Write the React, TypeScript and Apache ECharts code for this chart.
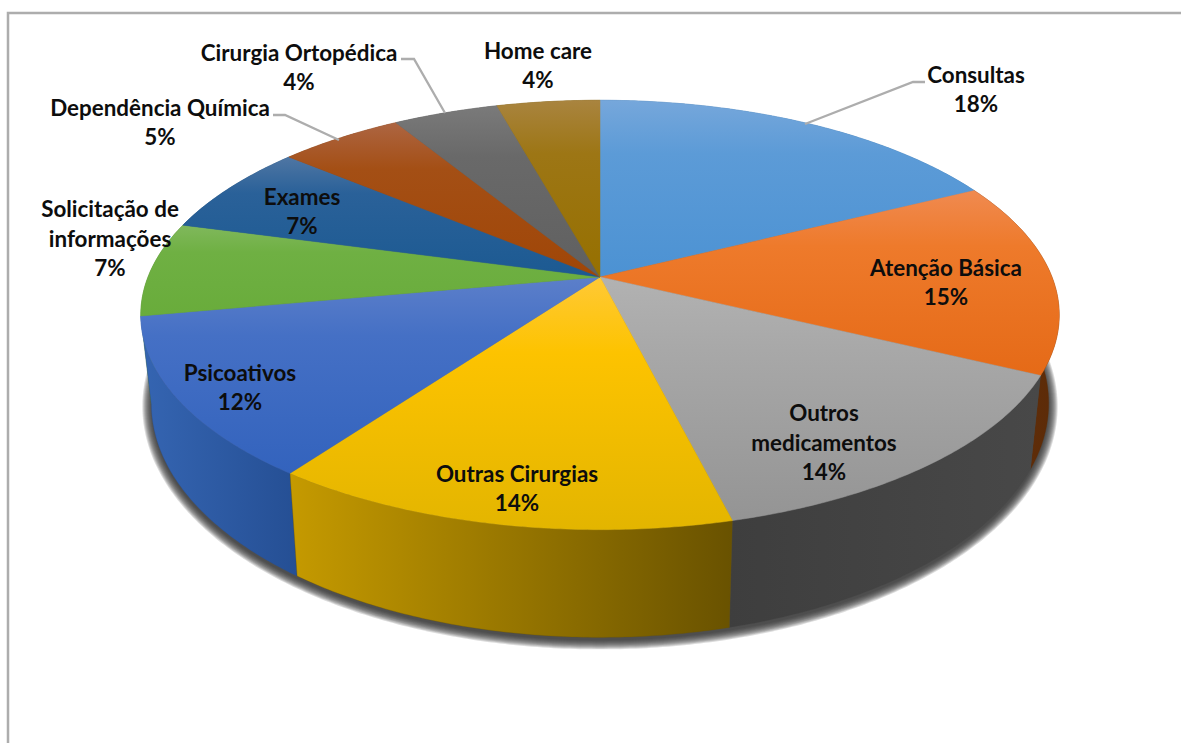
import React, { useEffect, useRef } from "react";
import * as echarts from "echarts";

const categories = [
  "Consultas",
  "Atenção Básica",
  "Outros\nmedicamentos",
  "Outras Cirurgias",
  "Psicoativos",
  "Solicitação de\ninformações",
  "Exames",
  "Dependência Química",
  "Cirurgia Ortopédica",
  "Home care",
];
const values = [17.6, 14.6, 13.9, 13.9, 12.1, 7.1, 6.9, 5.2, 4.4, 4.3];

const topLight = ["#76a7db", "#f08a50", "#b2b2b2", "#ffc936", "#5c7fca", "#80b85c", "#4f76a3", "#ad6542", "#7a7a7a", "#a9843f"];
const topMid = ["#5c9bd7", "#ee7a2b", "#a8a8a8", "#fdc300", "#4570c5", "#6fb043", "#2a6199", "#a44f15", "#696969", "#9d7615"];
const topDark = ["#4c92d3", "#e56a17", "#949494", "#e3b500", "#3363bd", "#69ac3b", "#1c5a92", "#a04607", "#606060", "#967000"];
const sideLeft = ["#2f6ca3", "#64300a", "#3e3e3e", "#c59a00", "#3565b2", "#4c7f2a", "#15426b", "#6f3005", "#444444", "#6b5000"];
const sideRight = ["#2f6ca3", "#5c2b08", "#484848", "#695200", "#254f94", "#4c7f2a", "#15426b", "#6f3005", "#444444", "#6b5000"];

const labelCenters = [
  [976, 89], [946, 282], [824, 442], [517, 488], [240, 387],
  [110, 238], [302, 211], [160, 122], [299, 67], [538, 65],
];
const leaderLines = [
  [[805, 124], [913, 82], [925, 82]],
  [[273, 115], [285, 115], [339, 140]],
  [[401, 59], [414, 59], [445, 113]],
];

// Perspective projection of the pie's unit disc
const CX = 600, CY = 277, A = 452, B = 208, K = 0.1768;
const BOTTOM_X = 0.977, BOTTOM_Y = 1.09, BOTTOM_CY = 362;
const total = values.reduce((a, b) => a + b, 0);

function top(angle: number): number[] {
  const x = Math.sin(angle), y = -Math.cos(angle);
  const w = 1 - K * y;
  return [CX + (A * x) / w, CY + (B * y) / w];
}
function bottom(angle: number): number[] {
  const p = top(angle);
  return [CX + BOTTOM_X * (p[0] - CX), BOTTOM_CY + BOTTOM_Y * (p[1] - CY)];
}
function arc(fn: (a: number) => number[], a0: number, a1: number): number[][] {
  const n = Math.max(4, Math.ceil((a1 - a0) / 0.01));
  const pts: number[][] = [];
  for (let i = 0; i <= n; i++) pts.push(fn(a0 + ((a1 - a0) * i) / n));
  return pts;
}
function bounds(i: number): [number, number] {
  let s = 0;
  for (let k = 0; k < i; k++) s += values[k];
  return [(s / total) * Math.PI * 2, ((s + values[i]) / total) * Math.PI * 2];
}
const hGrad = (a: string, b: string) =>
  new echarts.graphic.LinearGradient(0, 0, 1, 0, [{ offset: 0, color: a }, { offset: 1, color: b }]);
const vGrad = (a: string, m: string, b: string) =>
  new echarts.graphic.LinearGradient(0, 0, 0, 1, [{ offset: 0, color: a }, { offset: 0.3, color: m }, { offset: 1, color: b }]);

const data = values.map((v, i) => [i, v]);
// Back-to-front painting order for the walls
const sideOrder = [0, 9, 8, 7, 6, 5, 1, 4, 2, 3];
// Soft shadow built from stacked translucent outlines
const shadowSpread = [9, 8, 7, 6, 5, 4, 3, 2, 1, 0];

export default function App() {
  const ref = useRef<HTMLDivElement>(null);
  useEffect(() => {
    document.body.style.margin = "0";
    const chart = echarts.init(ref.current!, undefined, { renderer: "svg" });
    const font = { fontFamily: "Lato", fontWeight: 700, fontSize: 22.4, lineHeight: 29.5 };
    chart.setOption({
      animation: false,
      backgroundColor: "#ffffff",
      series: [
        {
          type: "custom",
          coordinateSystem: "none",
          silent: true,
          z: 1,
          data: [[0]],
          renderItem: () => {
            const base = arc(bottom, 0, Math.PI * 2);
            const midY = (top(Math.PI)[1] * BOTTOM_Y + BOTTOM_CY - CY * BOTTOM_Y + (top(0)[1] * BOTTOM_Y + BOTTOM_CY - CY * BOTTOM_Y)) / 2;
            return {
              type: "group",
              children: shadowSpread.map((d) => ({
                type: "polygon",
                shape: {
                  points: base.map((p) => [
                    CX + (p[0] - CX) * (1 + d / 450),
                    midY + 3 + (p[1] - midY) * (1 + d / 235),
                  ]),
                },
                style: { fill: "rgba(50,50,50,0.17)" },
              })),
            };
          },
        },
        {
          type: "custom",
          coordinateSystem: "none",
          silent: true,
          z: 2,
          data: sideOrder.map((i) => data[i]),
          renderItem: (_p: any, api: any) => {
            const i = api.value(0);
            const [a0, a1] = bounds(i);
            const pts = arc(top, a0, a1).concat(arc(bottom, a0, a1).reverse());
            return {
              type: "polygon",
              shape: { points: pts },
              style: { fill: hGrad(sideLeft[i], sideRight[i]), stroke: sideRight[i], lineWidth: 0.3 },
            };
          },
        },
        {
          type: "custom",
          coordinateSystem: "none",
          silent: true,
          z: 3,
          data,
          renderItem: (_p: any, api: any) => {
            const i = api.value(0);
            const [a0, a1] = bounds(i);
            const pts = [[CX, CY]].concat(arc(top, a0, a1));
            const fill = vGrad(topLight[i], topMid[i], topDark[i]);
            return {
              type: "polygon",
              shape: { points: pts },
              style: { fill, stroke: fill, lineWidth: 0.5 },
            };
          },
        },
      ],
      graphic: {
        elements: [
          {
            type: "polyline",
            z: 0,
            silent: true,
            shape: { points: [[8, 743], [8, 13], [1181, 13]] },
            style: { stroke: "#adadad", lineWidth: 2.5, fill: "none" },
          },
          ...leaderLines.map((pts) => ({
            type: "polyline",
            z: 10,
            silent: true,
            shape: { points: pts },
            style: { stroke: "#adadad", lineWidth: 2.3, fill: "none" },
          })),
          ...categories.map((name, i) => ({
            type: "text",
            z: 11,
            silent: true,
            x: labelCenters[i][0],
            y: labelCenters[i][1],
            style: {
              text: `${name}\n${Math.round((values[i] / total) * 100)}%`,
              ...font,
              fill: "#0d0d0d",
              align: "center",
              verticalAlign: "middle",
            },
          })),
        ],
      },
    });
    return () => chart.dispose();
  }, []);
  return <div ref={ref} style={{ width: 1181, height: 743 }} />;
}
